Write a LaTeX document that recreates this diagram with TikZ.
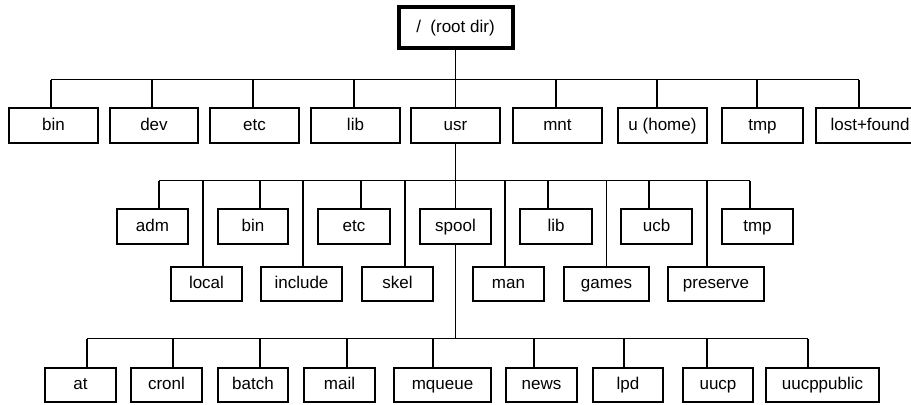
\documentclass[tikz,border=0pt]{standalone}
\usepackage{fontspec}
\setmainfont{Liberation Sans}
\newcommand\dirbox[6]{\node[box,minimum width=#5bp,minimum height=#6bp] (#1) at (#2,#3) {#4};}
\begin{document}
\begin{tikzpicture}[x=1bp,y=-1bp,
  box/.style={draw,line width=2bp,inner sep=0pt,anchor=center,text height=12.5bp,text depth=3.5bp,font=\fontsize{17bp}{17bp}\selectfont},
  rootbox/.style={box,line width=4bp},
  conn/.style={line width=1.4bp}]
\clip (0,0) rectangle (911,404);
\fill[white] (0,0) rectangle (911,404);
% root
\node[rootbox,minimum width=114bp,minimum height=41bp] (root) at (455.5,27.5) {/\ \ (root dir)};
\coordinate (bus1) at (455,79.5);
\coordinate (bus2) at (455,180.5);
\coordinate (bus3) at (455,338.5);
% level 1
\dirbox{bin}{53.5}{125.5}{bin}{89}{35}
\dirbox{dev}{154}{125.5}{dev}{88}{35}
\dirbox{etc}{254.5}{125.5}{etc}{89}{35}
\dirbox{lib}{355.5}{125.5}{lib}{89}{35}
\dirbox{usr}{455.5}{125.5}{usr}{89}{35}
\dirbox{mnt}{557.5}{125.5}{mnt}{89}{35}
\dirbox{uhome}{662.5}{125.5}{u (home)}{89}{35}
\dirbox{tmp}{762.5}{125.5}{tmp}{81}{35}
\dirbox{lf}{870}{125.5}{lost+found}{108}{35}
% level 2a
\dirbox{adm}{152.5}{226.5}{adm}{71}{35}
\dirbox{ubin}{253}{226.5}{bin}{70}{35}
\dirbox{uetc}{354}{226.5}{etc}{72}{35}
\dirbox{spool}{455.5}{226.5}{spool}{71}{35}
\dirbox{ulib}{556}{226.5}{lib}{72}{35}
\dirbox{ucb}{656.5}{226.5}{ucb}{71}{35}
\dirbox{utmp}{757.5}{226.5}{tmp}{71}{35}
% level 2b
\dirbox{local}{206.5}{284}{local}{71}{34}
\dirbox{include}{301.5}{284}{include}{81}{34}
\dirbox{skel}{397.5}{284}{skel}{71}{34}
\dirbox{man}{508.5}{284}{man}{71}{34}
\dirbox{games}{606.5}{284}{games}{85}{34}
\dirbox{preserve}{716}{284}{preserve}{96}{34}
% level 3
\dirbox{at}{80.5}{385}{at}{71}{34}
\dirbox{cronl}{166.5}{385}{cronl}{71}{34}
\dirbox{batch}{253}{385}{batch}{70}{34}
\dirbox{mail}{339.5}{385}{mail}{71}{34}
\dirbox{mqueue}{442.5}{385}{mqueue}{97}{34}
\dirbox{news}{541.5}{385}{news}{71}{34}
\dirbox{lpd}{628}{385}{lpd}{70}{34}
\dirbox{uucp}{718}{385}{uucp}{70}{34}
\dirbox{uucppublic}{822.5}{385}{uucppublic}{113}{34}
% connectors level 1
\draw[conn] (root.south) -- (root.south |- bus1);
\draw[conn] ([xshift=-2.5bp]bin.north |- bus1) -- ([xshift=-11bp]lf.north |- bus1);
\foreach \n/\d in {bin/-2.5,dev/-2,etc/-1.5,lib/-1.5,usr/0,mnt/-1.5,uhome/-5.5,tmp/-5.5,lf/-11}
  \draw[conn] ([xshift=\d bp]\n.north) -- ([xshift=\d bp]\n.north |- bus1);
% connectors level 2
\draw[conn] (usr.south) -- (usr.south |- bus2);
\draw[conn] ([xshift=6.5bp]adm.north |- bus2) -- ([xshift=-7.5bp]utmp.north |- bus2);
\foreach \n/\d in {adm/6.5,ubin/7,uetc/7,spool/0,ulib/-8,ucb/-7.5,utmp/-7.5,local/-3.5,include/1.5,skel/7.5,man/-3.5,games/0,preserve/-9}
  \draw[conn] ([xshift=\d bp]\n.north) -- ([xshift=\d bp]\n.north |- bus2);
% connectors level 3
\draw[conn] (spool.south) -- (spool.south |- bus3);
\draw[conn] ([xshift=6.5bp]at.north |- bus3) -- ([xshift=-14.5bp]uucppublic.north |- bus3);
\foreach \n/\d in {at/6.5,cronl/6.5,batch/7,mail/7.5,mqueue/-9.5,news/-7.5,lpd/-4,uucp/-11,uucppublic/-14.5}
  \draw[conn] ([xshift=\d bp]\n.north) -- ([xshift=\d bp]\n.north |- bus3);
\end{tikzpicture}
\end{document}
